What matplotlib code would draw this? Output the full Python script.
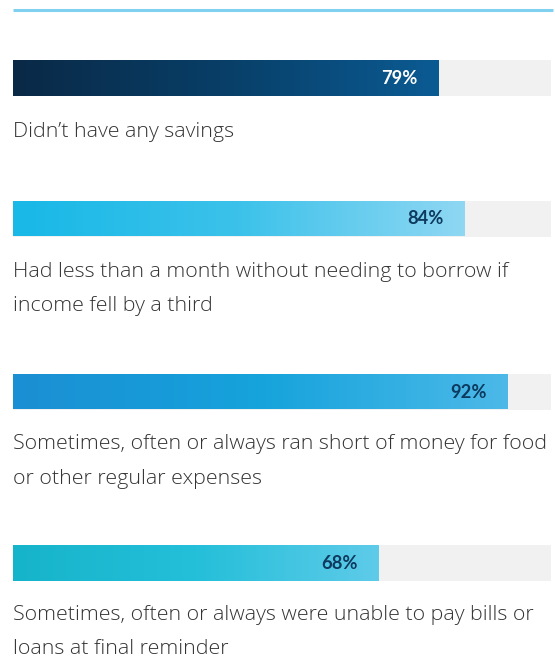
import matplotlib
matplotlib.use("Agg")
import matplotlib.pyplot as plt
import numpy as np
from matplotlib.colors import LinearSegmentedColormap

categories = [
    "Didn\u2019t have any savings",
    "Had less than a month without needing to borrow if\nincome fell by a third",
    "Sometimes, often or always ran short of money for food\nor other regular expenses",
    "Sometimes, often or always were unable to pay bills or\nloans at final reminder",
]
values = [79, 84, 92, 68]
value_labels = ["79%", "84%", "92%", "68%"]

gradients = [
    ["#0a2946", "#083f68", "#0b5b93"],
    ["#18b8e7", "#3cc2ea", "#8fd7f3"],
    ["#1b8fd3", "#16a3dc", "#4cb9e8"],
    ["#16b4cb", "#24bfd9", "#5ecbe9"],
]
label_colors = ["#ffffff", "#0d3a5e", "#0d3a5e", "#0d3a5e"]

W, H = 555, 658
fig = plt.figure(figsize=(W / 100, H / 100), dpi=100)
x0, x1 = 13, 551
ax = fig.add_axes([x0 / W, 0, (x1 - x0) / W, 1])
ax.set_xlim(0, 100)
ax.set_ylim(H, 0)
ax.axis("off")

bar_centers = [78, 218.5, 391.5, 563]
bar_h = 36
text_centers = [132.5, 289, 461.5, 632]

# top rule
ax.plot([0, 100.4], [10, 10], color="#80d0f0", lw=2.2, clip_on=False, solid_capstyle="butt")

for i, (cat, v, lab) in enumerate(zip(categories, values, value_labels)):
    yc = bar_centers[i]
    ax.barh(yc, 100, height=bar_h, color="#f1f1f1", edgecolor="none")
    bar = ax.barh(yc, v, height=bar_h, color="none", edgecolor="none")[0]
    cmap = LinearSegmentedColormap.from_list(f"g{i}", gradients[i])
    grad = np.linspace(0, 1, 256).reshape(1, -1)
    im = ax.imshow(grad, cmap=cmap, aspect="auto",
                   extent=[0, v, yc + bar_h / 2, yc - bar_h / 2], zorder=2)
    im.set_clip_path(bar)
    ax.text(v - 3.9, yc + 0.5, lab, ha="right", va="center", fontsize=13.2,
            fontweight="bold", color=label_colors[i], family="Lato", zorder=3)
    ax.text(0, text_centers[i], cat, ha="left", va="center", fontsize=15.4,
            color="#333333", family="Open Sans", fontweight=300, linespacing=1.97)

ax.set_xlim(0, 100)
ax.set_ylim(H, 0)
fig.savefig("out.png", dpi=100)
